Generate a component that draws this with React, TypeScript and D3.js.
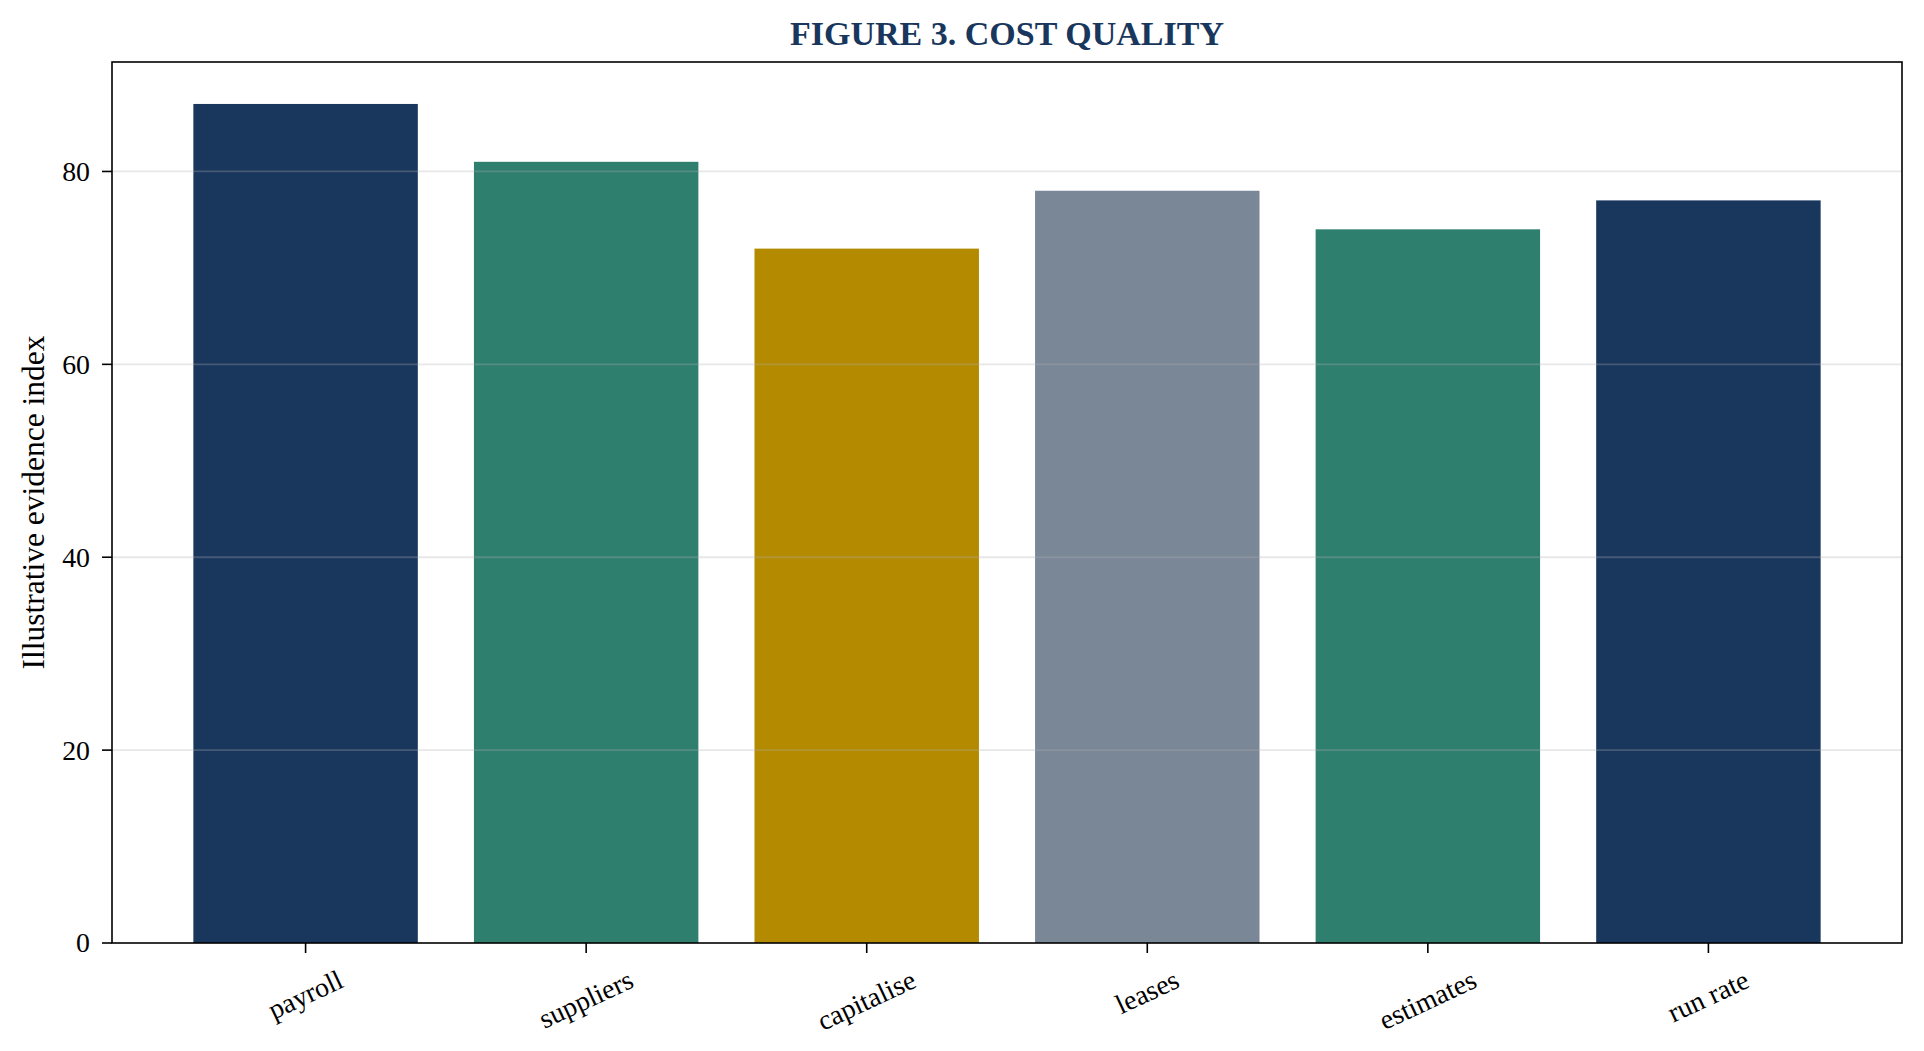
import React, { useEffect, useRef } from 'react';
import * as d3 from 'd3';

const categories = ['payroll', 'suppliers', 'capitalise', 'leases', 'estimates', 'run rate'];
const values = [87, 81, 72, 78, 74, 77];
const barColors = ['#19365d', '#2f7f6f', '#b38a00', '#7a8797', '#2f7f6f', '#19365d'];
const yTicks = [0, 20, 40, 60, 80];

const TITLE = 'FIGURE 3. COST QUALITY';
const Y_LABEL = 'Illustrative evidence index';
const FONT = "'Liberation Serif', 'Times New Roman', serif";

const W = 1924;
const H = 1051;

const App: React.FC = () => {
  const svgRef = useRef<SVGSVGElement>(null);

  useEffect(() => {
    if (!svgRef.current) return;
    d3.select(svgRef.current).selectAll('*').remove();

    const svg = d3.select(svgRef.current);
    const margin = { top: 62, right: 22, bottom: 108, left: 112 };
    const width = W - margin.left - margin.right;
    const height = H - margin.top - margin.bottom;

    const g = svg.append('g')
      .attr('transform', `translate(${margin.left},${margin.top})`);

    // Scales
    const xScale = d3.scaleBand<string>()
      .domain(categories)
      .range([0, width])
      .paddingInner(0.2)
      .paddingOuter(0.29);

    const yScale = d3.scaleLinear()
      .domain([0, d3.max(values)! * 1.05])
      .range([height, 0]);

    // Bars
    g.selectAll('rect.bar')
      .data(values)
      .enter()
      .append('rect')
      .attr('class', 'bar')
      .attr('x', (_, i) => xScale(categories[i])!)
      .attr('y', d => yScale(d))
      .attr('width', xScale.bandwidth())
      .attr('height', d => height - yScale(d))
      .attr('fill', (_, i) => barColors[i]);

    // Gridlines (drawn over the bars, faint)
    g.selectAll('line.grid')
      .data(yTicks.filter(t => t > 0))
      .enter()
      .append('line')
      .attr('class', 'grid')
      .attr('x1', 0)
      .attr('x2', width)
      .attr('y1', d => yScale(d))
      .attr('y2', d => yScale(d))
      .attr('stroke', '#b0b0b0')
      .attr('stroke-opacity', 0.3)
      .attr('stroke-width', 1.8);

    // Frame
    g.append('rect')
      .attr('x', 0)
      .attr('y', 0)
      .attr('width', width)
      .attr('height', height)
      .attr('fill', 'none')
      .attr('stroke', '#000')
      .attr('stroke-width', 1.6);

    // Y axis ticks and labels
    const yAxis = g.append('g');
    yTicks.forEach(t => {
      yAxis.append('line')
        .attr('x1', -10)
        .attr('x2', 0)
        .attr('y1', yScale(t))
        .attr('y2', yScale(t))
        .attr('stroke', '#000')
        .attr('stroke-width', 1.6);
      yAxis.append('text')
        .attr('x', -22)
        .attr('y', yScale(t))
        .attr('dy', '0.34em')
        .attr('text-anchor', 'end')
        .style('font-family', FONT)
        .style('font-size', '27.8px')
        .style('fill', '#000')
        .text(t);
    });

    // X axis ticks and rotated labels
    const xAxis = g.append('g').attr('transform', `translate(0,${height})`);
    const angle = 25 * Math.PI / 180;
    categories.forEach(c => {
      const cx = xScale(c)! + xScale.bandwidth() / 2;
      xAxis.append('line')
        .attr('x1', cx)
        .attr('x2', cx)
        .attr('y1', 0)
        .attr('y2', 10)
        .attr('stroke', '#000')
        .attr('stroke-width', 1.6);
      const label = xAxis.append('text')
        .attr('text-anchor', 'middle')
        .attr('dy', '0.32em')
        .style('font-family', FONT)
        .style('font-size', '27.8px')
        .style('fill', '#000')
        .text(c);
      const tw = (label.node() as SVGTextElement).getComputedTextLength();
      const th = 27.8 * 0.75;
      const boxH = tw * Math.sin(angle) + th * Math.cos(angle);
      const cy = 26 + boxH / 2;
      label.attr('transform', `translate(${cx},${cy}) rotate(-25)`);
    });

    // Y label
    svg.append('text')
      .attr('transform', `translate(33,${margin.top + height / 2}) rotate(-90)`)
      .attr('text-anchor', 'middle')
      .attr('dy', '0.35em')
      .style('font-family', FONT)
      .style('font-size', '31.5px')
      .style('fill', '#000')
      .text(Y_LABEL);

    // Title
    svg.append('text')
      .attr('x', margin.left + width / 2)
      .attr('y', 45)
      .attr('text-anchor', 'middle')
      .style('font-family', FONT)
      .style('font-size', '34px')
      .style('font-weight', 'bold')
      .style('fill', '#19365d')
      .text(TITLE);
  }, []);

  return (
    <svg
      ref={svgRef}
      width={W}
      height={H}
      style={{ position: 'absolute', left: 0, top: 0, background: '#fff', display: 'block' }}
    />
  );
};

export default App;
